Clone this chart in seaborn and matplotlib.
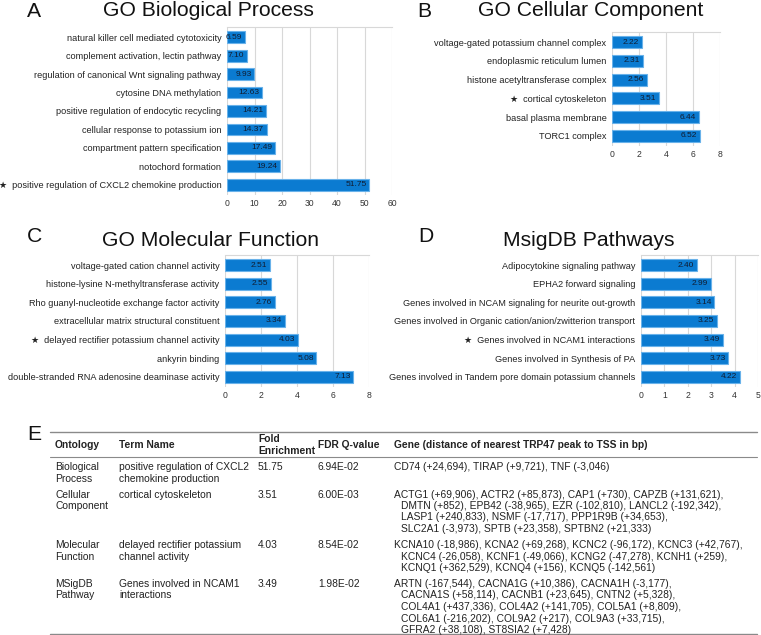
import matplotlib
matplotlib.use("Agg")
import matplotlib.pyplot as plt
from matplotlib.lines import Line2D
import seaborn as sns
import pandas as pd

sns.set_theme(style="white")
plt.rcParams["font.family"] = ["Liberation Sans", "DejaVu Sans"]

W, H = 761, 635
STAR = "\u2605"

# A - GO biological process
bp_terms = ["natural killer cell mediated cytotoxicity",
            "complement activation, lectin pathway",
            "regulation of canonical Wnt signaling pathway",
            "cytosine DNA methylation",
            "positive regulation of endocytic recycling",
            "cellular response to potassium ion",
            "compartment pattern specification",
            "notochord formation",
            STAR + "  positive regulation of CXCL2 chemokine production"]
bp_fold = [6.59, 7.10, 9.93, 12.63, 14.21, 14.37, 17.49, 19.24, 51.75]

# B - GO cellular component
cc_terms = ["voltage-gated potassium channel complex",
            "endoplasmic reticulum lumen",
            "histone acetyltransferase complex",
            STAR + "  cortical cytoskeleton",
            "basal plasma membrane",
            "TORC1 complex"]
cc_fold = [2.22, 2.31, 2.56, 3.51, 6.44, 6.52]

# C - GO molecular function
mf_terms = ["voltage-gated cation channel activity",
            "histone-lysine N-methyltransferase activity",
            "Rho guanyl-nucleotide exchange factor activity",
            "extracellular matrix structural constituent",
            STAR + "  delayed rectifier potassium channel activity",
            "ankyrin binding",
            "double-stranded RNA adenosine deaminase activity"]
mf_fold = [2.51, 2.55, 2.76, 3.34, 4.03, 5.08, 7.13]

# D - MsigDB pathways
pw_terms = ["Adipocytokine signaling pathway",
            "EPHA2 forward signaling",
            "Genes involved in NCAM signaling for neurite out-growth",
            "Genes involved in Organic cation/anion/zwitterion transport",
            STAR + "  Genes involved in NCAM1 interactions",
            "Genes involved in Synthesis of PA",
            "Genes involved in Tandem pore domain potassium channels"]
pw_fold = [2.40, 2.99, 3.14, 3.25, 3.49, 3.73, 4.22]

# E - table
tab_header = ["Ontology", "Term Name", "Fold\nEnrichment", "FDR Q-value",
              "Gene (distance of nearest TRP47 peak to TSS in bp)"]
tab_ontology = ["Biological\nProcess", "Cellular\nComponent",
                "Molecular\nFunction", "MSigDB\nPathway"]
tab_term = ["positive regulation of CXCL2\nchemokine production",
            "cortical cytoskeleton",
            "delayed rectifier potassium\nchannel activity",
            "Genes involved in NCAM1\ninteractions"]
tab_fold = ["51.75", "3.51", "4.03", "3.49"]
tab_fdr = ["6.94E-02", "6.00E-03", "8.54E-02", "1.98E-02"]
tab_genes = [
    "CD74 (+24,694), TIRAP (+9,721), TNF (-3,046)",
    "ACTG1 (+69,906), ACTR2 (+85,873), CAP1 (+730), CAPZB (+131,621),\n"
    "DMTN (+852), EPB42 (-38,965), EZR (-102,810), LANCL2 (-192,342),\n"
    "LASP1 (+240,833), NSMF (-17,717), PPP1R9B (+34,653),\n"
    "SLC2A1 (-3,973), SPTB (+23,358), SPTBN2 (+21,333)",
    "KCNA10 (-18,986), KCNA2 (+69,268), KCNC2 (-96,172), KCNC3 (+42,767),\n"
    "KCNC4 (-26,058), KCNF1 (-49,066), KCNG2 (-47,278), KCNH1 (+259),\n"
    "KCNQ1 (+362,529), KCNQ4 (+156), KCNQ5 (-142,561)",
    "ARTN (-167,544), CACNA1G (+10,386), CACNA1H (-3,177),\n"
    "CACNA1S (+58,114), CACNB1 (+23,645), CNTN2 (+5,328),\n"
    "COL4A1 (+437,336), COL4A2 (+141,705), COL5A1 (+8,809),\n"
    "COL6A1 (-216,202), COL9A2 (+217), COL9A3 (+33,715),\n"
    "GFRA2 (+38,108), ST8SIA2 (+7,428)",
]

BAR = "#0b7bd1"
EDGE = "#69b2ea"
GRID = "#d8d8d8"
TXT = "#222222"

fig = plt.figure(figsize=(W / 100, H / 100), dpi=100)


def px(x, y):
    return x / W, 1 - y / H


def bar_panel(l, t, r, b, terms, vals, xmax, step, title, tx, ty, letter, lx, ly):
    ax = fig.add_axes([l / W, 1 - b / H, (r - l) / W, (b - t) / H])
    df = pd.DataFrame({"term": terms, "fold": vals})
    sns.barplot(data=df, x="fold", y="term", orient="h", color=BAR,
                saturation=1, width=0.64, edgecolor=EDGE, linewidth=0.8, ax=ax)
    n = len(terms)
    ax.set_ylim(n - 0.45, -0.55)
    ax.set_xlim(0, xmax)
    ax.set_xticks(range(0, xmax + 1, step))
    ax.xaxis.grid(True, color=GRID, lw=0.8)
    ax.set_axisbelow(True)
    for s in ["left", "right", "bottom"]:
        ax.spines[s].set_visible(False)
    ax.spines["top"].set_color(GRID)
    ax.spines["top"].set_linewidth(0.8)
    ax.set_xlabel("")
    ax.set_ylabel("")
    ax.tick_params(axis="x", length=0, labelsize=6.2, labelcolor="#333333", pad=3)
    ax.tick_params(axis="y", length=0, labelsize=6.6, labelcolor=TXT, pad=4)
    for i, v in enumerate(vals):
        ax.annotate(f"{v:.2f}", (v, i), xytext=(-2, 0), textcoords="offset points",
                    ha="right", va="center", fontsize=6, color="#101c30")
    fig.text(*px(tx, ty), title, ha="center", va="baseline", fontsize=15.2, color="#111111")
    fig.text(*px(lx, ly), letter, ha="left", va="baseline", fontsize=15.2, color="#111111")
    return ax


bar_panel(227, 27, 392, 195, bp_terms, bp_fold, 60, 10,
          "GO Biological Process", 208, 16, "A", 27, 17)
bar_panel(612, 32, 720, 146, cc_terms, cc_fold, 8, 2,
          "GO Cellular Component", 591, 16, "B", 417, 17)
bar_panel(225, 255, 369, 387, mf_terms, mf_fold, 8, 2,
          "GO Molecular Function", 210, 246, "C", 27, 242)
bar_panel(641, 255, 758, 387, pw_terms, pw_fold, 5, 1,
          "MsigDB Pathways", 589, 246, "D", 418, 242)

# table
fig.text(*px(27, 440), "E", ha="left", va="baseline", fontsize=15.2, color="#111111")
RULE = "#8a8a8a"
for y, x0, lw in [(432, 50, 1.0), (457, 50, 0.8), (634, 50, 1.0)]:
    fig.add_artist(Line2D([x0 / W, 757 / W], [1 - y / H, 1 - y / H],
                          transform=fig.transFigure, color=RULE, lw=lw))

col_x = [55, 119, 258, 318, 394]
FS = 7.4
LS = 11.5
for x, h in zip(col_x, tab_header):
    lines = h.split("\n")
    y0 = 445 - (len(lines) - 1) * LS / 2
    for k, line in enumerate(lines):
        fig.text(*px(x, y0 + k * LS), line, ha="left", va="center",
                 fontsize=FS, fontweight="bold", color=TXT)

y = 467
for ont, term, fold, fdr, genes in zip(tab_ontology, tab_term, tab_fold, tab_fdr, tab_genes):
    nmax = 1
    for x, cell in zip(col_x, [ont, term, fold, fdr, genes]):
        lines = cell.split("\n")
        nmax = max(nmax, len(lines))
        for k, line in enumerate(lines):
            xx = x + (7 if (x == col_x[4] and k > 0) else 0)
            fig.text(*px(xx, y + k * LS), line, ha="left", va="center",
                     fontsize=FS, color=TXT)
    y += nmax * LS + 4.5

fig.savefig("out.png", dpi=100)
